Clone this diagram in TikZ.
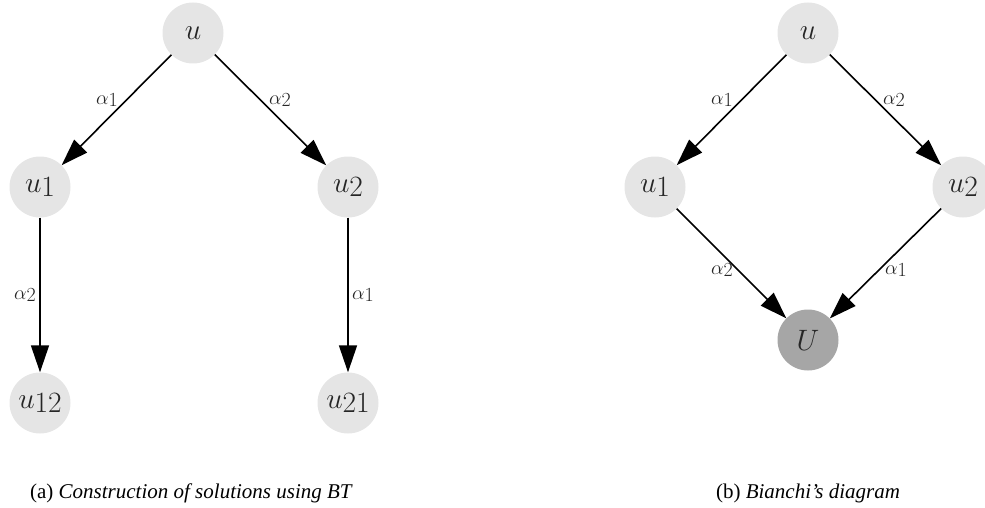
\RequirePackage{fix-cm}
\documentclass[tikz,border=0pt]{standalone}
\usepackage{fontspec}
\setmainfont{Liberation Serif}
\usetikzlibrary{arrows.meta}
\newcommand\lowdig[1]{\lower0.12em\hbox{$#1$}}
\begin{document}
\begin{tikzpicture}[x=1pt,y=-1pt,
  vert/.style={circle,minimum size=61pt,inner sep=0pt,fill=black!10,text=black!85,
    font=\fontsize{29.5}{34}\selectfont},
  vertdark/.style={vert,fill=black!35},
  conn/.style={line width=1.6pt,-{Triangle[length=27pt,width=18pt]}},
  lab/.style={inner sep=0pt,text=black!85,font=\fontsize{20}{24}\selectfont},
  capt/.style={inner sep=0pt,font=\fontsize{21}{25}\selectfont}]
\useasboundingbox (0,0) rectangle (985,508);
% left diagram
\node[vert] (a) at (193,33) {$u$};
\node[vert] (a1) at (40,187) {$u\lowdig{1}$};
\node[vert] (a2) at (348,187) {$u\lowdig{2}$};
\node[vert] (a12) at (40,403) {$u\lowdig{12}$};
\node[vert] (a21) at (348,403) {$u\lowdig{21}$};
\draw[conn] (a) -- (a1);
\draw[conn] (a) -- (a2);
\draw[conn] (a1) -- (a12);
\draw[conn] (a2) -- (a21);
\node[lab] (la1) at (107,100) {$\alpha\lowdig{1}$};
\node[lab] (la2) at (280,100) {$\alpha\lowdig{2}$};
\node[lab] (la3) at (25,295) {$\alpha\lowdig{2}$};
\node[lab] (la4) at (363,295) {$\alpha\lowdig{1}$};
\node[capt] (capa) at (191.5,493) {(a) \textit{Construction of solutions using BT}};
% right diagram
\node[vert] (b) at (808,33) {$u$};
\node[vert] (b1) at (655,187) {$u\lowdig{1}$};
\node[vert] (b2) at (963,187) {$u\lowdig{2}$};
\node[vertdark] (bU) at (808,340) {$U$};
\draw[conn] (b) -- (b1);
\draw[conn] (b) -- (b2);
\draw[conn] (b1) -- (bU);
\draw[conn] (b2) -- (bU);
\node[lab] (lb1) at (722,100) {$\alpha\lowdig{1}$};
\node[lab] (lb2) at (894,100) {$\alpha\lowdig{2}$};
\node[lab] (lb3) at (722,270) {$\alpha\lowdig{2}$};
\node[lab] (lb4) at (896,270) {$\alpha\lowdig{1}$};
\node[capt] (capb) at (808,493) {(b) \textit{Bianchi’s diagram}};
\end{tikzpicture}
\end{document}
